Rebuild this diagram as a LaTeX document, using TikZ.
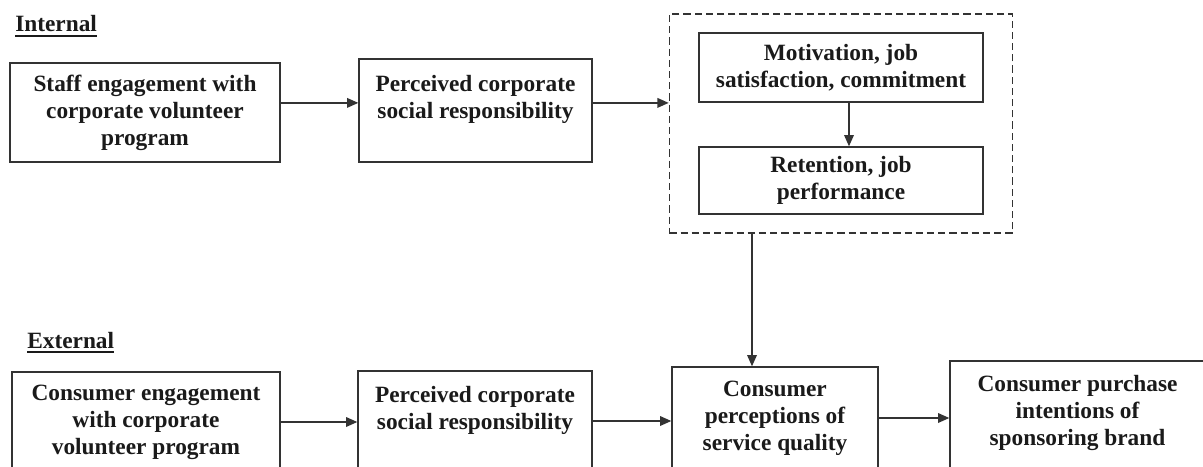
\documentclass[tikz,border=0pt]{standalone}
\usepackage{fontspec}
\setmainfont{Liberation Serif}
\usepackage{xcolor}
\usepackage{tikz}
\usetikzlibrary{arrows.meta, positioning, calc, fit}
\definecolor{ink}{HTML}{1A1A1A}
\definecolor{edge}{HTML}{333333}

\tikzset{
  box/.style={draw=edge, line width=1pt, align=center, inner sep=0pt, text=ink,
    font=\fontsize{16.6}{19.2}\selectfont\bfseries},
  lbl/.style={anchor=base west, inner sep=0pt, text=ink,
    font=\fontsize{16.6}{19.2}\selectfont\bfseries},
  ulrule/.style={draw=ink, line width=1.3pt},
  arr/.style={draw=edge, line width=1pt, -{Triangle[length=2.8mm,width=2.4mm]}},
  grpbox/.style={draw=edge, line width=0.9pt, dash pattern=on 1.8mm off 1mm,
    inner xsep=7.25mm, inner ysep=4.6mm}
}

\begin{document}
\begin{tikzpicture}
\fill[white] (0,0) rectangle (30.075,11.65);
\useasboundingbox (0,0) rectangle (30.075,11.65);

% Internal row
\node[lbl] (intlbl) at (0.375,10.85) {Internal};
\draw[ulrule] ([yshift=-0.9mm]intlbl.base west) -- ([yshift=-0.9mm]intlbl.base east);

\node[box, minimum width=6.75cm, minimum height=2.475cm] (staff) at (3.625,8.8375)
  {Staff engagement with\\ corporate volunteer\\ program};
\node[box, minimum width=5.825cm, minimum height=2.575cm] (pcsr) at (11.8875,8.8875)
  {Perceived corporate\\ social responsibility\\ \mbox{}};

% employee outcomes
\node[box, minimum width=7.1cm, minimum height=1.725cm] (motiv) at (21.025,9.9625)
  {Motivation, job\\ satisfaction, commitment};
\node[box, minimum width=7.1cm, minimum height=1.675cm] (retent) at (21.025,7.1375)
  {Retention, job\\ performance};
\node[grpbox, fit=(motiv)(retent)] (grp) {};

\draw[arr] ([yshift=2.4mm]staff.east) -- ([yshift=2.4mm]staff.east -| pcsr.west);
\draw[arr] ([yshift=1.9mm]pcsr.east) -- ([yshift=1.9mm]pcsr.east -| grp.west);
\draw[arr] ([xshift=2mm]motiv.south) -- ([xshift=2mm]motiv.south |- retent.north);

% External row
\node[lbl] (extlbl) at (0.675,2.95) {External};
\draw[ulrule] ([yshift=-0.9mm]extlbl.base west) -- ([yshift=-0.9mm]extlbl.base east);

\node[box, minimum width=6.7cm, minimum height=2.5cm] (ceng) at (3.65,1.1)
  {Consumer engagement\\ with corporate\\ volunteer program};
\node[box, minimum width=5.85cm, minimum height=2.5cm] (pext) at (11.875,1.125)
  {Perceived corporate\\ social responsibility\\ \mbox{}};
\node[box, minimum width=5.15cm, minimum height=2.55cm] (cperc) at (19.375,1.2)
  {Consumer\\ perceptions of\\ service quality};
\node[box, minimum width=6.375cm, minimum height=3.125cm] (buy) at (26.9375,1.0625)
  {Consumer purchase\\ intentions of\\ sponsoring brand\\ \mbox{}};

\draw[arr] (ceng.east) -- (ceng.east -| pext.west);
\draw[arr] (pext.east) -- (pext.east -| cperc.west);
\draw[arr] (cperc.east) -- (cperc.east -| buy.west);
\draw[arr] ([xshift=-5.75mm]cperc.north |- grp.south) -- ([xshift=-5.75mm]cperc.north);
\end{tikzpicture}
\end{document}
